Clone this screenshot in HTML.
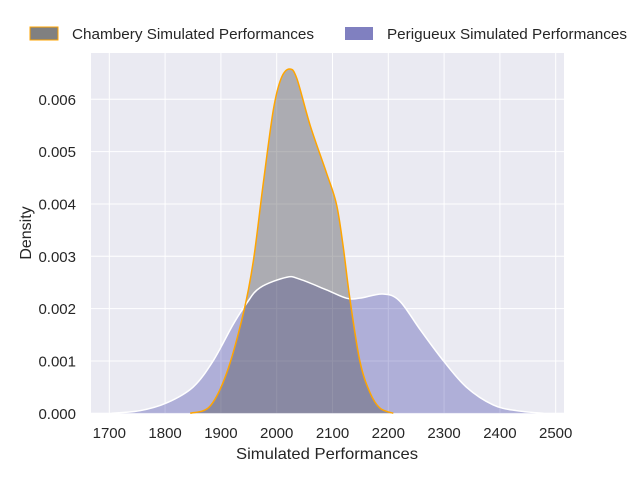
<!DOCTYPE html>
<html><head><meta charset="utf-8"><style>
body{margin:0;background:#fff;font-family:"Liberation Sans",sans-serif}
</style></head><body>
<svg id="chart" width="640" height="480" xmlns="http://www.w3.org/2000/svg" font-family="Liberation Sans, sans-serif">
<rect x="91" y="53" width="473" height="360" fill="#eaeaf2"/>
<g id="grid"></g>
<g id="series"></g>
<g id="ticks" font-size="15" fill="#262626"></g>
<text x="236" y="459" textLength="182" lengthAdjust="spacingAndGlyphs" font-size="16" fill="#262626">Simulated Performances</text>
<text transform="translate(31,233) rotate(-90)" text-anchor="middle" font-size="16" fill="#262626">Density</text>
<g font-size="15" fill="#262626">
<g><rect x="30" y="27" width="28" height="13" fill="#808080" stroke="#ffa500" stroke-width="1"/><text x="72" y="39" textLength="242" lengthAdjust="spacingAndGlyphs">Chambery Simulated Performances</text></g>
<g><rect x="345" y="27" width="28" height="13" fill="#8080c0"/><text x="387" y="39" textLength="240" lengthAdjust="spacingAndGlyphs">Perigueux Simulated Performances</text></g>
</g>
</svg>
<script>
const xTicks=[1700,1800,1900,2000,2100,2200,2300,2400,2500];
const yTicks=[0,0.001,0.002,0.003,0.004,0.005,0.006];
const yTickLabels=["0.000","0.001","0.002","0.003","0.004","0.005","0.006"];
const chamberyX=[1845,1880,1910,1940,1958,1976,1994,2008,2023,2036,2060,2089,2107,2119,2131,2149,2167,2185,2209];
const chamberyY=[0,0.00013,0.00076,0.0019,0.0029,0.0044,0.0058,0.0064,0.00658,0.0064,0.0055,0.0046,0.0040,0.0032,0.0022,0.0010,0.0004,0.0001,0];
const perigueuxX=[1704,1755,1803,1850,1886,1922,1946,1970,2018,2042,2089,2125,2149,2190,2220,2257,2299,2340,2388,2430,2478];
const perigueuxY=[0,0.00005,0.0002,0.0005,0.001,0.0017,0.0021,0.0024,0.0026,0.00256,0.00236,0.0022,0.0022,0.00228,0.00215,0.0016,0.0010,0.0005,0.00016,0.00005,0];
const X=v=>109.3+(v-1700)*0.558;
const Y=v=>413.3-v*52333;
const NS="http://www.w3.org/2000/svg";
const grid=document.getElementById('grid'),ticks=document.getElementById('ticks'),ser=document.getElementById('series');
function mk(t,a,p){const e=document.createElementNS(NS,t);for(const k in a)e.setAttribute(k,a[k]);p.appendChild(e);return e;}
xTicks.forEach(v=>{
 const l=mk('line',{x1:X(v),x2:X(v),y1:53,y2:413,stroke:'#fff','stroke-width':1},grid);
 
 
 const t=mk('text',{x:X(v),y:438,'text-anchor':'middle'},ticks);t.textContent=v;
 
 
});
yTicks.forEach((v,i)=>{
 const l=mk('line',{x1:91,x2:564,y1:Y(v),y2:Y(v),stroke:'#fff','stroke-width':1},grid);
 
 
 const t=mk('text',{x:76,y:Y(v)+5.5,'text-anchor':'end'},ticks);t.textContent=yTickLabels[i];
 
 
});
function smooth(xs,ys){
 const p=xs.map((x,i)=>[X(x),Y(ys[i])]);let d='M'+p[0][0]+','+p[0][1];
 for(let i=0;i<p.length-1;i++){const p0=p[i-1]||p[i],p1=p[i],p2=p[i+1],p3=p[i+2]||p2;
  d+=' C'+(p1[0]+(p2[0]-p0[0])/6)+','+(p1[1]+(p2[1]-p0[1])/6)+' '+(p2[0]-(p3[0]-p1[0])/6)+','+(p2[1]-(p3[1]-p1[1])/6)+' '+p2[0]+','+p2[1];}
 return d;}
const pd=smooth(perigueuxX,perigueuxY);
const pf=mk('path',{d:pd+' Z',fill:'rgba(0,0,139,0.25)'},ser);


const cd=smooth(chamberyX,chamberyY);
const cf=mk('path',{d:cd+' Z',fill:'rgba(85,85,90,0.42)'},ser);


const pl=mk('path',{d:pd,fill:'none',stroke:'#fff','stroke-width':1.5},ser);


const cl=mk('path',{d:cd,fill:'none',stroke:'#ffa500','stroke-width':1.5},ser);


</script>
</body></html>
